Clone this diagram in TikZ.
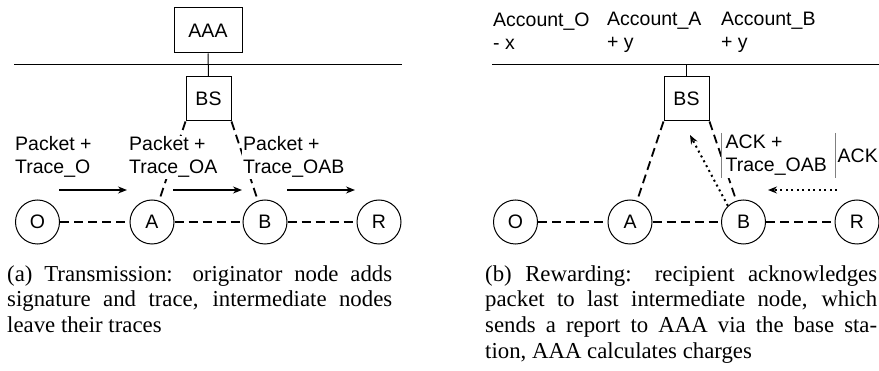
\documentclass[tikz,border=0pt]{standalone}
\usepackage{fontspec}
\setmainfont{Liberation Serif}
\setsansfont{Liberation Sans}
\usetikzlibrary{arrows.meta}

\newcommand\labelfont{\sffamily\fontsize{19.5}{23}\selectfont}
\newcommand\capfont{\rmfamily\fontsize{22.8}{25.7}\selectfont}

\begin{document}
\begin{tikzpicture}[x=1pt,y=-1pt,
  box/.style={draw, line width=1pt, inner sep=0pt, font=\labelfont},
  station/.style={circle, draw, line width=1pt, minimum size=44pt, inner sep=0pt, font=\labelfont},
  link/.style={line width=1.8pt, dash pattern=on 9pt off 5pt},
  bus/.style={line width=1pt},
  msg/.style={line width=1.4pt, -{Stealth[length=9pt,width=7pt]}},
  ackmsg/.style={line width=2pt, dash pattern=on 2pt off 3.5pt, -{Stealth[length=9pt,width=7pt]}},
  tag/.style={font=\labelfont, align=left, anchor=north west, inner sep=1pt},
  bar/.style={draw=gray, line width=1pt},
  caption/.style={font=\capfont, align=justify, anchor=north west, inner sep=0pt}
]
\useasboundingbox (0,0) rectangle (879,371);

% ---------- (a) transmission ----------
\node[box, minimum width=68pt, minimum height=45pt] (aaa) at (208,30.5) {AAA};
\coordinate (busLa) at (14,65);
\coordinate (busLb) at (402,65);
\draw[bus] (busLa) -- (busLb);
\node[box, minimum width=45pt, minimum height=44pt] (bsL) at (208.5,99) {BS};
\draw[bus] (aaa.south) -- (bsL.north);

\node[station] (oL) at (37.5,222) {O};
\node[station] (aL) at (152,222) {A};
\node[station] (bL) at (265,222) {B};
\node[station] (rL) at (379,222) {R};
\draw[link] (oL) -- (aL);
\draw[link] (aL) -- (bL);
\draw[link] (bL) -- (rL);
\draw[link] (bsL.south west) -- (aL);
\draw[link] (bsL.south east) -- (bL);

\node[tag, fill=white] (tO)   at (14,135.5)  {Packet +\\Trace\_O};
\node[tag, fill=white] (tOA)  at (128,135.5) {Packet +\\Trace\_OA};
\node[tag, fill=white] (tOAB) at (242,135.5) {Packet +\\Trace\_OAB};

\coordinate (m1a) at (59,190);  \coordinate (m1b) at (127,190);
\coordinate (m2a) at (173,190); \coordinate (m2b) at (242,190);
\coordinate (m3a) at (287,190); \coordinate (m3b) at (355,190);
\draw[msg] (m1a) -- (m1b);
\draw[msg] (m2a) -- (m2b);
\draw[msg] (m3a) -- (m3b);

% ---------- (b) rewarding ----------
\node[tag] (accO) at (492,11.3) {Account\_O\\- x};
\node[tag] (accA) at (606,11.3) {Account\_A\\+ y};
\node[tag] (accB) at (720,11.3) {Account\_B\\+ y};

\coordinate (busRa) at (492,65);
\coordinate (busRb) at (879,65);
\draw[bus] (busRa) -- (busRb);
\node[box, minimum width=45pt, minimum height=44pt] (bsR) at (686.5,99) {BS};
\coordinate (busRtap) at (686.5,65);
\draw[bus] (busRtap) -- (bsR.north);

\node[station] (oR) at (515.5,222) {O};
\node[station] (aR) at (630,222) {A};
\node[station] (bR) at (743.5,222) {B};
\node[station] (rR) at (857,222) {R};
\draw[link] (oR) -- (aR);
\draw[link] (aR) -- (bR);
\draw[link] (bR) -- (rR);
\draw[link] (bsR.south west) -- (aR);
\draw[link] (bsR.south east) -- (bR);

\node[tag, fill=white, inner xsep=4.5pt, inner ysep=2pt] (ackT) at (721,133) {ACK +\\Trace\_OAB};
\draw[bar] (ackT.north west) -- (ackT.south west);
\node[tag, minimum height=45pt, inner xsep=2.5pt] (ackR) at (835,133) {ACK};
\draw[bar] (ackR.north west) -- (ackR.south west);

\coordinate (reportTip) at (690,135);
\draw[ackmsg] (bR.134) -- (reportTip);
\coordinate (ackFrom) at (837,190);
\coordinate (ackTo) at (768,190);
\draw[ackmsg] (ackFrom) -- (ackTo);

% ---------- captions ----------
\node[caption, text width=385pt] (capA) at (7,265)
  {(a) Transmission: originator node adds\linebreak signature and trace, intermediate nodes\linebreak leave their traces};
\node[caption, text width=392pt] (capB) at (485,265)
  {(b) Rewarding: recipient acknowledges\linebreak packet to last intermediate node, which\linebreak sends a report to AAA via the base sta-\linebreak tion, AAA calculates charges};
\end{tikzpicture}
\end{document}
